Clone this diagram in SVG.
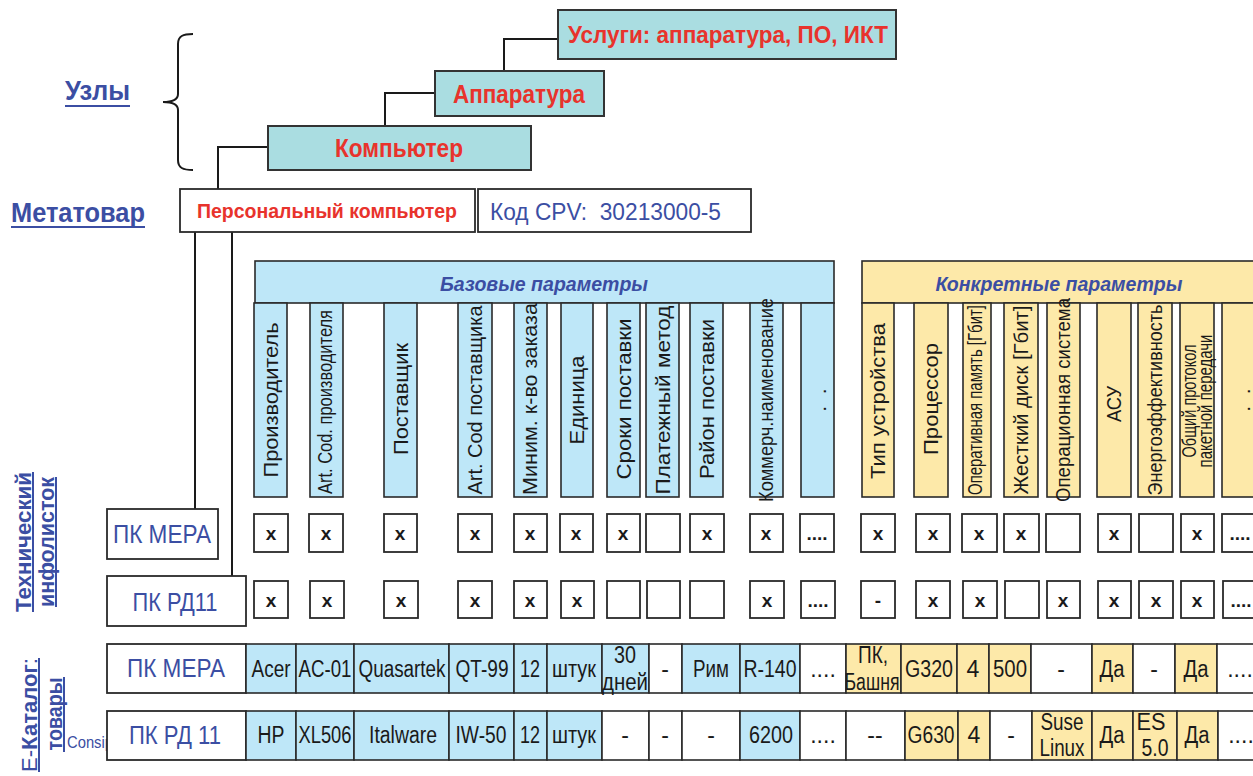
<svg xmlns="http://www.w3.org/2000/svg" width="1253" height="776" viewBox="0 0 1253 776">
<style>
.bx{stroke:#2a2a2a;stroke-width:1.6}
.node{fill:#aadde1;stroke:#333;stroke-width:2}
.wb{fill:#fff;stroke:#2a2a2a;stroke-width:1.8}
.b{fill:#bee7f8}
.y{fill:#fde9a9}
.w{fill:#fff}
.red{font-family:"Liberation Sans",Arial,sans-serif;font-weight:bold;fill:#e8332c;text-anchor:middle}
.blu{font-family:"Liberation Sans",Arial,sans-serif;fill:#3b4ea3}
.lab{font-family:"Liberation Sans",Arial,sans-serif;font-weight:bold;fill:#3b4ea3}
.hd{font-family:"Liberation Sans",Arial,sans-serif;font-size:21px;fill:#1a1a1a;text-anchor:middle}
.band{font-family:"Liberation Sans",Arial,sans-serif;font-weight:bold;font-style:italic;font-size:20px;fill:#3b4ea3;text-anchor:middle}
.cell{font-family:"Liberation Sans",Arial,sans-serif;font-size:23px;fill:#1a1a1a;text-anchor:middle}
.chk{font-family:"Liberation Sans",Arial,sans-serif;font-weight:bold;font-size:19px;fill:#1a1a1a;text-anchor:middle}
.ln{stroke:#1a1a1a;stroke-width:2;fill:none}
.ul{stroke:#3b4ea3;stroke-width:2}
</style>

<!-- side labels -->
<g id="label-uzly">
<text class="lab" x="65" y="100" font-size="28" textLength="65" lengthAdjust="spacingAndGlyphs">Узлы</text>
<line class="ul" x1="65" y1="106" x2="130" y2="106"/>
<path class="ln" d="M193,34 C183,34 178,36 178,44 L178,94 C178,100 172,102 163,102 C172,102 178,104 178,110 L178,160 C178,168 183,170 193,170"/>
</g>
<g id="label-metatovar">
<text class="lab" x="11" y="222" font-size="28" textLength="134" lengthAdjust="spacingAndGlyphs">Метатовар</text>
<line class="ul" x1="11" y1="227" x2="145" y2="227"/>
</g>
<g id="label-tech">
<text class="lab" transform="translate(31,542) rotate(-90)" x="0" y="0" font-size="22" text-anchor="middle" textLength="140" lengthAdjust="spacingAndGlyphs">Технический</text>
<line class="ul" x1="33" y1="472" x2="33" y2="612"/>
<text class="lab" transform="translate(54,542) rotate(-90)" x="0" y="0" font-size="22" text-anchor="middle" textLength="130" lengthAdjust="spacingAndGlyphs">инфолисток</text>
<line class="ul" x1="56" y1="477" x2="56" y2="607"/>
</g>
<g id="label-ecat">
<text class="lab" transform="translate(37,715) rotate(-90)" x="0" y="0" font-size="22" text-anchor="middle" textLength="114" lengthAdjust="spacingAndGlyphs"><tspan font-weight="normal">E-</tspan>Каталог<tspan font-weight="normal">:</tspan></text>
<line class="ul" x1="39" y1="658" x2="39" y2="772"/>
<text class="lab" transform="translate(62,714) rotate(-90)" x="0" y="0" font-size="22" text-anchor="middle" textLength="73" lengthAdjust="spacingAndGlyphs">товары</text>
<line class="ul" x1="64" y1="677" x2="64" y2="752"/>
<text class="blu" x="67" y="748" font-size="16" fill="#2f3d80" textLength="46" lengthAdjust="spacingAndGlyphs">Consip</text>
</g>

<!-- connectors -->
<g id="connectors">
<polyline class="ln" points="558,39 504,39 504,71"/>
<polyline class="ln" points="435,93 385,93 385,126"/>
<polyline class="ln" points="268,147 218,147 218,189"/>
<line class="ln" x1="195" y1="232" x2="195" y2="509"/>
<line class="ln" x1="232" y1="232" x2="232" y2="576"/>
</g>

<!-- tree nodes -->
<g id="node-uslugi">
<rect class="node" x="558" y="10" width="338" height="49"/>
<text class="red" x="728" y="43" font-size="24" textLength="320" lengthAdjust="spacingAndGlyphs">Услуги: аппаратура, ПО, ИКТ</text>
</g>
<g id="node-apparatura">
<rect class="node" x="435" y="71" width="169" height="45"/>
<text class="red" x="519" y="103" font-size="26" textLength="132" lengthAdjust="spacingAndGlyphs">Аппаратура</text>
</g>
<g id="node-kompyuter">
<rect class="node" x="268" y="126" width="263" height="44"/>
<text class="red" x="399" y="157" font-size="26" textLength="128" lengthAdjust="spacingAndGlyphs">Компьютер</text>
</g>
<g id="node-pk">
<rect class="wb" x="180" y="189" width="295" height="43"/>
<text class="red" x="327" y="218" font-size="20" textLength="260" lengthAdjust="spacingAndGlyphs">Персональный компьютер</text>
</g>
<g id="node-cpv">
<rect class="wb" x="478" y="189" width="273" height="43"/>
<text class="blu" x="490" y="220" font-size="23" textLength="231" lengthAdjust="spacingAndGlyphs">Код CPV:&#160; 30213000-5</text>
</g>

<!-- header bands -->
<g id="band-base">
<rect class="bx b" x="255" y="261" width="579" height="42"/>
<text class="band" x="544" y="291" textLength="208" lengthAdjust="spacingAndGlyphs">Базовые параметры</text>
</g>
<g id="band-conc">
<rect class="bx y" x="862" y="261" width="400" height="42"/>
<text class="band" x="1059" y="291" textLength="247" lengthAdjust="spacingAndGlyphs">Конкретные параметры</text>
</g>

<!-- base columns -->
<g id="cols-base">
<rect class="bx b" x="254" y="303" width="33" height="194"/>
<text class="hd" transform="translate(278,400) rotate(-90)" textLength="155" lengthAdjust="spacingAndGlyphs">Производитель</text>
<rect class="bx b" x="310" y="303" width="33" height="194"/>
<text class="hd" transform="translate(332,402) rotate(-90)" font-size="16" textLength="184" lengthAdjust="spacingAndGlyphs">Art. Cod. производителя</text>
<rect class="bx b" x="384" y="303" width="33" height="194"/>
<text class="hd" transform="translate(408,399) rotate(-90)" textLength="112" lengthAdjust="spacingAndGlyphs">Поставщик</text>
<rect class="bx b" x="458" y="303" width="34" height="194"/>
<text class="hd" transform="translate(482,400) rotate(-90)" font-size="20" textLength="189" lengthAdjust="spacingAndGlyphs">Art. Cod поставщика</text>
<rect class="bx b" x="514" y="303" width="33" height="194"/>
<text class="hd" transform="translate(537,399) rotate(-90)" font-size="20" textLength="192" lengthAdjust="spacingAndGlyphs">Миним. к-во заказа</text>
<rect class="bx b" x="561" y="303" width="32" height="194"/>
<text class="hd" transform="translate(584,400) rotate(-90)" textLength="89" lengthAdjust="spacingAndGlyphs">Единица</text>
<rect class="bx b" x="607" y="303" width="33" height="194"/>
<text class="hd" transform="translate(631,399) rotate(-90)" textLength="161" lengthAdjust="spacingAndGlyphs">Сроки поставки</text>
<rect class="bx b" x="646" y="303" width="33" height="194"/>
<text class="hd" transform="translate(670,400) rotate(-90)" textLength="189" lengthAdjust="spacingAndGlyphs">Платежный метод</text>
<rect class="bx b" x="690" y="303" width="33" height="194"/>
<text class="hd" transform="translate(714,399) rotate(-90)" textLength="160" lengthAdjust="spacingAndGlyphs">Район поставки</text>
<rect class="bx b" x="750" y="303" width="33" height="194"/>
<text class="hd" transform="translate(773,400) rotate(-90)" font-size="18" textLength="204" lengthAdjust="spacingAndGlyphs">Коммерч.наименование</text>
<rect class="bx b" x="801" y="303" width="33" height="194"/>
<text class="hd" transform="translate(826,400) rotate(-90)" font-size="24">.&#160;&#160;.</text>
</g>

<!-- concrete columns -->
<g id="cols-conc">
<rect class="bx y" x="862" y="303" width="32" height="194"/>
<text class="hd" transform="translate(885,401) rotate(-90)" textLength="156" lengthAdjust="spacingAndGlyphs">Тип устройства</text>
<rect class="bx y" x="914" y="303" width="34" height="194"/>
<text class="hd" transform="translate(938,399) rotate(-90)" textLength="112" lengthAdjust="spacingAndGlyphs">Процессор</text>
<rect class="bx y" x="963" y="303" width="28" height="194"/>
<text class="hd" transform="translate(982,400) rotate(-90)" font-size="15" textLength="190" lengthAdjust="spacingAndGlyphs">Оперативная память [Гбит]</text>
<rect class="bx y" x="1004" y="303" width="34" height="194"/>
<text class="hd" transform="translate(1028,400) rotate(-90)" textLength="189" lengthAdjust="spacingAndGlyphs">Жесткий диск [Гбит]</text>
<rect class="bx y" x="1047" y="303" width="33" height="194"/>
<text class="hd" transform="translate(1070,400) rotate(-90)" font-size="19" textLength="204" lengthAdjust="spacingAndGlyphs">Операционная система</text>
<rect class="bx y" x="1097" y="303" width="34" height="194"/>
<text class="hd" transform="translate(1121,404) rotate(-90)" textLength="36" lengthAdjust="spacingAndGlyphs">АСУ</text>
<rect class="bx y" x="1138" y="303" width="34" height="194"/>
<text class="hd" transform="translate(1162,400) rotate(-90)" font-size="19" textLength="191" lengthAdjust="spacingAndGlyphs">Энергоэффективность</text>
<rect class="bx y" x="1180" y="303" width="34" height="194"/>
<text class="hd" transform="translate(1196,401) rotate(-90)" font-size="13" textLength="113" lengthAdjust="spacingAndGlyphs">Общий протокол</text>
<text class="hd" transform="translate(1212,401) rotate(-90)" font-size="13" textLength="133" lengthAdjust="spacingAndGlyphs">пакетной передачи</text>
<rect class="bx y" x="1222" y="303" width="40" height="194"/>
<text class="hd" transform="translate(1250,400) rotate(-90)" font-size="24">.&#160;&#160;.</text>
</g>

<!-- row labels -->
<g id="row-tech-mera">
<rect class="wb" x="107" y="509" width="111" height="50"/>
<text class="blu" x="162" y="543" font-size="25" text-anchor="middle" textLength="98" lengthAdjust="spacingAndGlyphs">ПК МЕРА</text>
</g>
<g id="row-tech-rd11">
<rect class="wb" x="107" y="576" width="139" height="50"/>
<text class="blu" x="175" y="611" font-size="25" text-anchor="middle" textLength="85" lengthAdjust="spacingAndGlyphs">ПК РД11</text>
</g>
<g id="row-cat-mera">
<rect class="wb" x="107" y="644" width="139" height="49"/>
<text class="blu" x="176" y="677" font-size="25" text-anchor="middle" textLength="98" lengthAdjust="spacingAndGlyphs">ПК МЕРА</text>
</g>
<g id="row-cat-rd11">
<rect class="wb" x="107" y="711" width="139" height="49"/>
<text class="blu" x="175" y="744" font-size="25" text-anchor="middle" textLength="92" lengthAdjust="spacingAndGlyphs">ПК РД 11</text>
</g>

<!-- checkbox row 1 -->
<g id="checks-mera">
<rect class="wb" x="254" y="514" width="34" height="38"/><text class="chk" x="271" y="540">x</text>
<rect class="wb" x="309" y="514" width="34" height="38"/><text class="chk" x="326" y="540">x</text>
<rect class="wb" x="384" y="514" width="33" height="38"/><text class="chk" x="400" y="540">x</text>
<rect class="wb" x="458" y="514" width="34" height="38"/><text class="chk" x="475" y="540">x</text>
<rect class="wb" x="514" y="514" width="33" height="38"/><text class="chk" x="530" y="540">x</text>
<rect class="wb" x="560" y="514" width="33" height="38"/><text class="chk" x="576" y="540">x</text>
<rect class="wb" x="607" y="514" width="33" height="38"/><text class="chk" x="623" y="540">x</text>
<rect class="wb" x="646" y="514" width="34" height="38"/>
<rect class="wb" x="690" y="514" width="34" height="38"/><text class="chk" x="707" y="540">x</text>
<rect class="wb" x="750" y="514" width="33" height="38"/><text class="chk" x="766" y="540">x</text>
<rect class="wb" x="800" y="514" width="34" height="38"/><text class="chk" x="817" y="540">....</text>
<rect class="wb" x="861" y="514" width="34" height="38"/><text class="chk" x="878" y="540">x</text>
<rect class="wb" x="916" y="514" width="34" height="38"/><text class="chk" x="933" y="540">x</text>
<rect class="wb" x="962" y="514" width="35" height="38"/><text class="chk" x="979" y="540">x</text>
<rect class="wb" x="1004" y="514" width="35" height="38"/><text class="chk" x="1021" y="540">x</text>
<rect class="wb" x="1046" y="514" width="34" height="38"/>
<rect class="wb" x="1098" y="514" width="33" height="38"/><text class="chk" x="1114" y="540">x</text>
<rect class="wb" x="1139" y="514" width="34" height="38"/>
<rect class="wb" x="1181" y="514" width="33" height="38"/><text class="chk" x="1197" y="540">x</text>
<rect class="wb" x="1222" y="514" width="40" height="38"/><text class="chk" x="1240" y="540">....</text>
</g>

<!-- checkbox row 2 -->
<g id="checks-rd11">
<rect class="wb" x="254" y="581" width="34" height="37"/><text class="chk" x="271" y="607">x</text>
<rect class="wb" x="310" y="581" width="34" height="37"/><text class="chk" x="327" y="607">x</text>
<rect class="wb" x="384" y="581" width="34" height="37"/><text class="chk" x="401" y="607">x</text>
<rect class="wb" x="458" y="581" width="34" height="37"/><text class="chk" x="475" y="607">x</text>
<rect class="wb" x="514" y="581" width="33" height="37"/><text class="chk" x="530" y="607">x</text>
<rect class="wb" x="561" y="581" width="33" height="37"/><text class="chk" x="577" y="607">x</text>
<rect class="wb" x="607" y="581" width="33" height="37"/>
<rect class="wb" x="647" y="581" width="33" height="37"/>
<rect class="wb" x="690" y="581" width="34" height="37"/>
<rect class="wb" x="750" y="581" width="34" height="37"/><text class="chk" x="767" y="607">x</text>
<rect class="wb" x="801" y="581" width="34" height="37"/><text class="chk" x="818" y="607">....</text>
<rect class="wb" x="861" y="581" width="34" height="37"/><text class="chk" x="878" y="607">-</text>
<rect class="wb" x="916" y="581" width="34" height="37"/><text class="chk" x="933" y="607">x</text>
<rect class="wb" x="963" y="581" width="34" height="37"/><text class="chk" x="980" y="607">x</text>
<rect class="wb" x="1005" y="581" width="34" height="37"/>
<rect class="wb" x="1047" y="581" width="33" height="37"/><text class="chk" x="1063" y="607">x</text>
<rect class="wb" x="1098" y="581" width="33" height="37"/><text class="chk" x="1114" y="607">x</text>
<rect class="wb" x="1139" y="581" width="34" height="37"/><text class="chk" x="1156" y="607">x</text>
<rect class="wb" x="1181" y="581" width="33" height="37"/><text class="chk" x="1197" y="607">x</text>
<rect class="wb" x="1223" y="581" width="40" height="37"/><text class="chk" x="1241" y="607">....</text>
</g>

<!-- catalog row MERA -->
<g id="cat-mera">
<rect class="bx b" x="246" y="644" width="50" height="49"/><text class="cell" x="271" y="677" textLength="39" lengthAdjust="spacingAndGlyphs">Acer</text>
<rect class="bx b" x="296" y="644" width="58" height="49"/><text class="cell" x="325" y="677" textLength="53" lengthAdjust="spacingAndGlyphs">AC-01</text>
<rect class="bx b" x="354" y="644" width="95" height="49"/><text class="cell" x="402" y="677" textLength="87" lengthAdjust="spacingAndGlyphs">Quasartek</text>
<rect class="bx b" x="449" y="644" width="65" height="49"/><text class="cell" x="482" y="677" textLength="53" lengthAdjust="spacingAndGlyphs">QT-99</text>
<rect class="bx b" x="514" y="644" width="33" height="49"/><text class="cell" x="530" y="677" textLength="20" lengthAdjust="spacingAndGlyphs">12</text>
<rect class="bx b" x="547" y="644" width="55" height="49"/><text class="cell" x="574" y="677" textLength="44" lengthAdjust="spacingAndGlyphs">штук</text>
<rect class="bx b" x="602" y="644" width="47" height="49"/><text class="cell" x="625" y="663" textLength="22" lengthAdjust="spacingAndGlyphs">30</text><text class="cell" x="625" y="690" textLength="46" lengthAdjust="spacingAndGlyphs">дней</text>
<rect class="bx w" x="649" y="644" width="33" height="49"/><text class="cell" x="665" y="677">-</text>
<rect class="bx b" x="682" y="644" width="58" height="49"/><text class="cell" x="711" y="677" textLength="36" lengthAdjust="spacingAndGlyphs">Рим</text>
<rect class="bx b" x="740" y="644" width="60" height="49"/><text class="cell" x="770" y="677" textLength="53" lengthAdjust="spacingAndGlyphs">R-140</text>
<rect class="bx w" x="800" y="644" width="46" height="49"/><text class="cell" x="823" y="677">....</text>
<rect class="bx y" x="846" y="644" width="55" height="49"/><text class="cell" x="873" y="663" textLength="30" lengthAdjust="spacingAndGlyphs">ПК,</text><text class="cell" x="872" y="690" textLength="55" lengthAdjust="spacingAndGlyphs">Башня</text>
<rect class="bx y" x="901" y="644" width="56" height="49"/><text class="cell" x="929" y="677" textLength="48" lengthAdjust="spacingAndGlyphs">G320</text>
<rect class="bx y" x="957" y="644" width="32" height="49"/><text class="cell" x="973" y="677">4</text>
<rect class="bx y" x="989" y="644" width="42" height="49"/><text class="cell" x="1010" y="677" textLength="34" lengthAdjust="spacingAndGlyphs">500</text>
<rect class="bx w" x="1031" y="644" width="61" height="49"/><text class="cell" x="1061" y="677">-</text>
<rect class="bx y" x="1092" y="644" width="41" height="49"/><text class="cell" x="1112" y="677" textLength="25" lengthAdjust="spacingAndGlyphs">Да</text>
<rect class="bx w" x="1133" y="644" width="42" height="49"/><text class="cell" x="1154" y="677">-</text>
<rect class="bx y" x="1175" y="644" width="42" height="49"/><text class="cell" x="1196" y="677" textLength="25" lengthAdjust="spacingAndGlyphs">Да</text>
<rect class="bx w" x="1217" y="644" width="45" height="49"/><text class="cell" x="1240" y="677">....</text>
</g>

<!-- catalog row RD 11 -->
<g id="cat-rd11">
<rect class="bx b" x="246" y="711" width="50" height="49"/><text class="cell" x="271" y="743" textLength="27" lengthAdjust="spacingAndGlyphs">HP</text>
<rect class="bx b" x="296" y="711" width="58" height="49"/><text class="cell" x="325" y="743" textLength="53" lengthAdjust="spacingAndGlyphs">XL506</text>
<rect class="bx b" x="354" y="711" width="95" height="49"/><text class="cell" x="403" y="743" textLength="68" lengthAdjust="spacingAndGlyphs">Italware</text>
<rect class="bx b" x="449" y="711" width="65" height="49"/><text class="cell" x="481" y="743" textLength="51" lengthAdjust="spacingAndGlyphs">IW-50</text>
<rect class="bx b" x="514" y="711" width="33" height="49"/><text class="cell" x="530" y="743" textLength="20" lengthAdjust="spacingAndGlyphs">12</text>
<rect class="bx b" x="547" y="711" width="55" height="49"/><text class="cell" x="574" y="743" textLength="44" lengthAdjust="spacingAndGlyphs">штук</text>
<rect class="bx w" x="602" y="711" width="47" height="49"/><text class="cell" x="625" y="743">-</text>
<rect class="bx w" x="649" y="711" width="33" height="49"/><text class="cell" x="665" y="743">-</text>
<rect class="bx w" x="682" y="711" width="58" height="49"/><text class="cell" x="711" y="743">-</text>
<rect class="bx b" x="740" y="711" width="60" height="49"/><text class="cell" x="771" y="743" textLength="44" lengthAdjust="spacingAndGlyphs">6200</text>
<rect class="bx w" x="800" y="711" width="46" height="49"/><text class="cell" x="823" y="743">....</text>
<rect class="bx w" x="846" y="711" width="59" height="49"/><text class="cell" x="875" y="743">--</text>
<rect class="bx y" x="905" y="711" width="53" height="49"/><text class="cell" x="931" y="743" textLength="47" lengthAdjust="spacingAndGlyphs">G630</text>
<rect class="bx y" x="958" y="711" width="32" height="49"/><text class="cell" x="974" y="743">4</text>
<rect class="bx w" x="990" y="711" width="42" height="49"/><text class="cell" x="1011" y="743">-</text>
<rect class="bx y" x="1032" y="711" width="60" height="49"/><text class="cell" x="1062" y="730" textLength="43" lengthAdjust="spacingAndGlyphs">Suse</text><text class="cell" x="1062" y="756" textLength="45" lengthAdjust="spacingAndGlyphs">Linux</text>
<rect class="bx y" x="1092" y="711" width="41" height="49"/><text class="cell" x="1112" y="743" textLength="25" lengthAdjust="spacingAndGlyphs">Да</text>
<rect class="bx y" x="1133" y="711" width="44" height="49"/><text class="cell" x="1151" y="730" textLength="29" lengthAdjust="spacingAndGlyphs">ES</text><text class="cell" x="1155" y="756" textLength="27" lengthAdjust="spacingAndGlyphs">5.0</text>
<rect class="bx y" x="1177" y="711" width="41" height="49"/><text class="cell" x="1197" y="743" textLength="25" lengthAdjust="spacingAndGlyphs">Да</text>
<rect class="bx w" x="1218" y="711" width="45" height="49"/><text class="cell" x="1241" y="743">....</text>
</g>
</svg>
